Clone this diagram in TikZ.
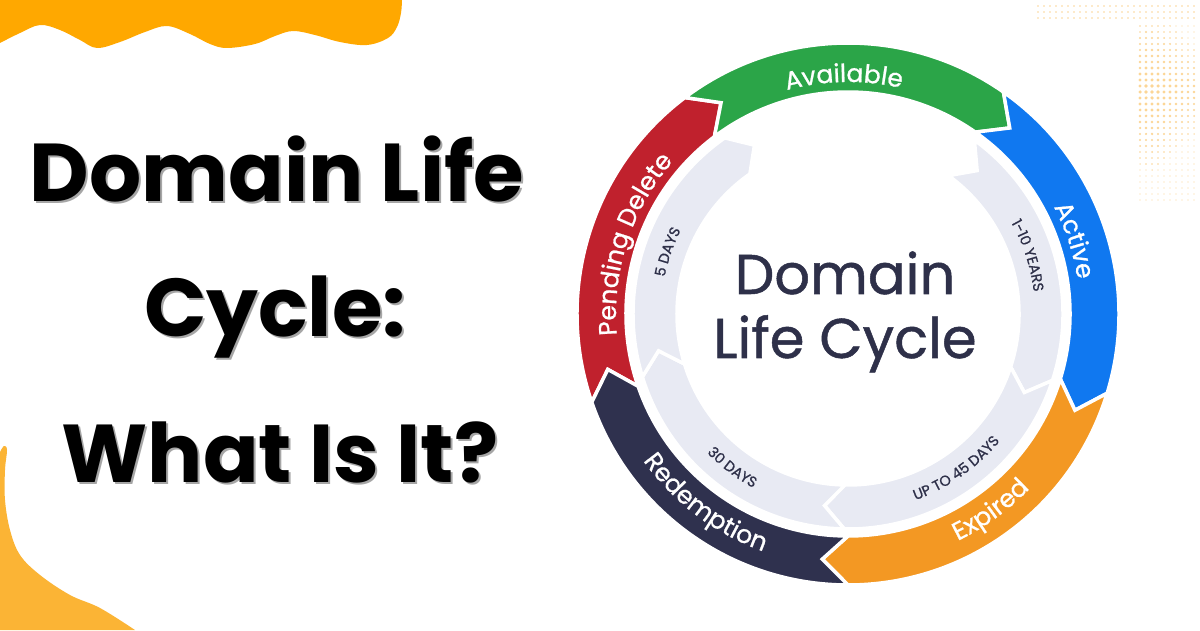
\documentclass[tikz,border=0pt]{standalone}
\usepackage{fontspec}
\setmainfont{Poppins}
\newfontfamily\medfont{Poppins}[FakeBold=0.9]
\usetikzlibrary{decorations.text}
\definecolor{cgreen}{HTML}{2BA548}
\definecolor{cblue}{HTML}{1078F0}
\definecolor{corange}{HTML}{F39823}
\definecolor{cnavy}{HTML}{2F314E}
\definecolor{cred}{HTML}{C0212D}
\definecolor{cgray}{HTML}{E8EAF3}
\definecolor{ctext}{HTML}{2E3049}
\definecolor{blobA}{HTML}{FFA800}
\definecolor{blobB}{HTML}{FBB435}
\definecolor{dotc}{HTML}{FCD696}
\newcommand\ringseg[5]{%
  \pgfmathsetmacro\segmid{(#4+#5)/2}%
  \pgfmathsetmacro\segtip{#3-6}%
  \pgfmathsetmacro\segnotch{#2-6}%
  \fill[#1, draw=white, line width=3.5, line join=miter]
    (#2:#4) arc[start angle=#2, end angle=#3, radius=#4]
    -- (\segtip:\segmid) -- (#3:#5)
    arc[start angle=#3, end angle=#2, radius=#5]
    -- (\segnotch:\segmid) -- cycle;
}
\newcommand\arclabel[6]{% start, end, radius, color, font, text
  \path[decorate, decoration={text along path, text align=center,
    text color=#4, text={|#5|#6}}]
    (#1:#3) arc[start angle=#1, end angle=#2, radius=#3];
}
\newcommand\outerfont{\medfont\fontsize{25}{25}\selectfont}
\newcommand\innerfont{\medfont\fontsize{14.5}{14.5}\selectfont}
\tikzset{
  title/.style={anchor=base, font=\fontsize{82}{90}\selectfont\bfseries, inner sep=0},
  centertext/.style={anchor=base, text=ctext, font=\medfont\fontsize{56}{60}\selectfont, inner sep=0}
}
\begin{document}
\begin{tikzpicture}[x=1pt,y=1pt]
\useasboundingbox (0,0) rectangle (1200,630);
\fill[white] (0,0) rectangle (1200,630);
% top-left blob
\fill[blobA] (0,630) -- (0,587) -- plot[smooth, tension=0.6] coordinates {(0,587) (20,597) (40,605) (60,600) (80,590) (97,582) (120,588) (145,598) (167,604) (190,596) (210,586) (227,582) (255,586) (275,594) (293,599) (315,595) (340,588) (367,585) (388,592) (397,603) (401,617) (402,630)} -- cycle;
% bottom-left blob
\fill[blobB] (0,0) -- (0,178) -- plot[smooth, tension=0.6] coordinates {(0,178) (4,184) (7,180) (5,160) (5,130) (10,100) (20,75) (40,55) (70,35) (100,22) (135,0)} -- cycle;
% halftone dots
\foreach \xx in {1038,1044,...,1198} {
  \foreach \yy in {612,618,624} {
    \fill[dotc] (\xx,\yy) circle[radius=0.9];
  }
}
\foreach \xx in {1140,1146,...,1198} {
  \foreach \yy in {430,436,...,606} {
    \pgfmathsetmacro\dr{max(0.6, 1.9-0.014*abs(\yy-540)-0.012*abs(\xx-1150))}
    \fill[dotc] (\xx,\yy) circle[radius=\dr];
  }
}
% title
\foreach \dx/\dy/\col in {2/-2/black!35, 0/0/black} {
  \node[title, text=\col] (t1) at (277+\dx,428+\dy) {Domain Life};
  \node[title, text=\col] (t2) at (275+\dx,293+\dy) {Cycle:};
  \node[title, text=\col] (t3) at (280+\dx,148+\dy) {What Is It?};
}
% ring
\begin{scope}[shift={(848,316)}]
  \ringseg{cred}{199}{127}{271}{222}
  \ringseg{cgreen}{127}{55}{271}{222}
  \ringseg{cblue}{55}{-17}{271}{222}
  \ringseg{corange}{-17}{-90}{271}{222}
  \ringseg{cnavy}{-90}{-161}{271}{222}
  \ringseg{cgray}{54}{-18}{215}{171}
  \ringseg{cgray}{-18}{-91}{215}{171}
  \ringseg{cgray}{-91}{-163}{215}{171}
  \ringseg{cgray}{197}{125}{215}{171}
  % outer labels
  \arclabel{151}{31}{232}{white}{\outerfont}{Available}
  \arclabel{78}{-42}{232}{white}{\outerfont}{Active}
  \arclabel{222}{102}{232}{white}{\outerfont}{Pending Delete}
  \arclabel{-114}{6}{252}{white}{\outerfont}{Expired}
  \arclabel{-187}{-67}{252}{white}{\outerfont}{Redemption}
  % inner labels
  \arclabel{78}{-42}{187}{ctext}{\innerfont}{1-10 YEARS}
  \arclabel{221}{101}{187}{ctext}{\innerfont}{5 DAYS}
  \arclabel{-115}{5}{198}{ctext}{\innerfont}{UP TO 45 DAYS}
  \arclabel{-187}{-67}{198}{ctext}{\innerfont}{30 DAYS}
\end{scope}
\node[centertext] (c1) at (845,336) {Domain};
\node[centertext] (c2) at (845,272) {Life Cycle};
\end{tikzpicture}
\end{document}
